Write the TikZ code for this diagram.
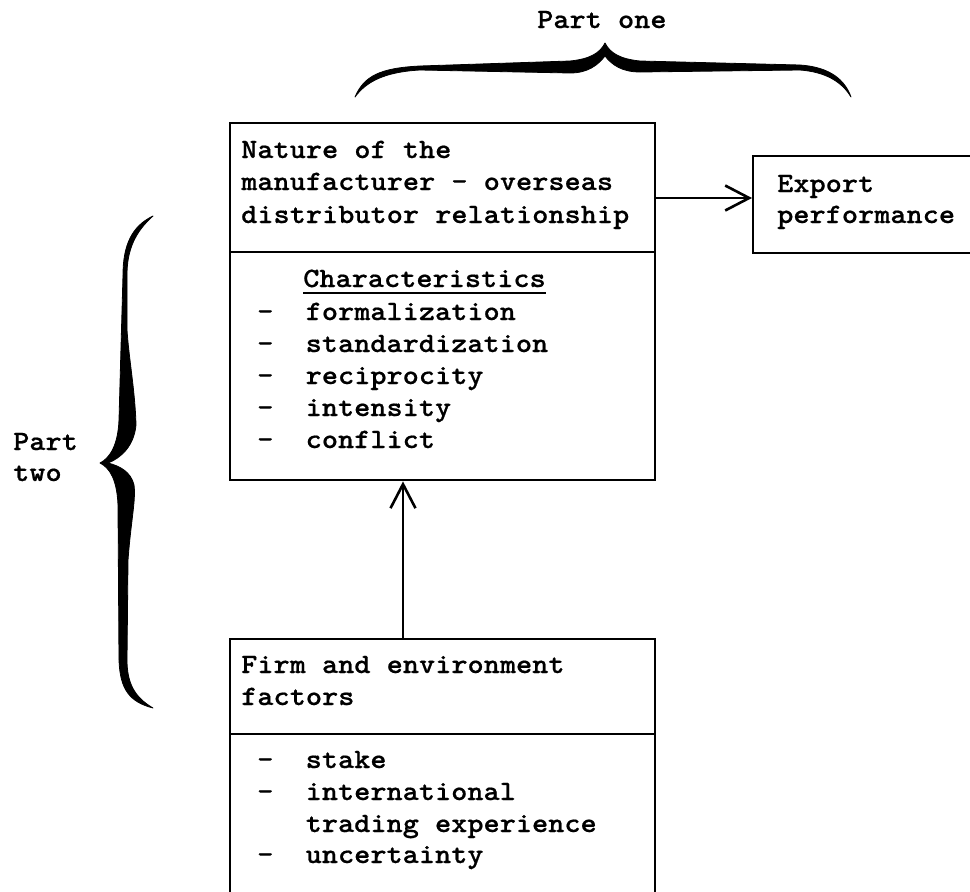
\documentclass[tikz,border=0pt]{standalone}
\usepackage{fontspec}
\newfontfamily\typewriter{lmmonolt10-bold.otf}[FakeStretch=1.1, FakeBold=0.6]
\usetikzlibrary{arrows.meta}
\begin{document}
\begin{tikzpicture}[x=1pt,y=-1pt,
  frame/.style={draw, line width=2.4pt, inner sep=0pt, anchor=north west},
  rule/.style={line width=2.4pt},
  tline/.style={anchor=base west, inner sep=0pt,
    font=\typewriter\fontsize{28}{32}\selectfont},
  link/.style={line width=2pt,
    -{Straight Barb[length=24pt,width=25pt,line width=2.6pt]}},
  brace/.style={fill=black, draw=black, line width=0.8pt, line join=round},
]
\useasboundingbox (0,0) rectangle (970,892);
\clip (0,0) rectangle (970,892);

% boxes
\node[frame, minimum width=425pt, minimum height=357pt] (rel) at (229,122) {};
\node[frame, minimum width=260pt, minimum height=97pt] (exp) at (752,155) {};
\node[frame, minimum width=425pt, minimum height=300pt] (fef) at (229,638) {};

% dividers between heading and list
\coordinate (d1) at (0,252);
\coordinate (d2) at (0,734);
\draw[rule] (rel.west |- d1) -- (rel.east |- d1);
\draw[rule] (fef.west |- d2) -- (fef.east |- d2);

% connectors
\coordinate (ay) at (0,198);
\coordinate (ax) at (403,0);
\draw[link] (rel.east |- ay) -- (exp.west |- ay);
\draw[link] (fef.north -| ax) -- (rel.south -| ax);

% relationship box text
\node[tline] (r1) at (241,158) {Nature of the};
\node[tline] (r2) at (241,190) {manufacturer - overseas};
\node[tline] (r3) at (241,223) {distributor relationship};
\node[tline] (ch) at (303,287) {Characteristics};
\draw[line width=2pt] ([yshift=-6pt]ch.base west) -- ([yshift=-6pt]ch.base east);
\node[tline] (c1) at (257,320) {-~~formalization};
\node[tline] (c2) at (257,352) {-~~standardization};
\node[tline] (c3) at (257,384) {-~~reciprocity};
\node[tline] (c4) at (257,416) {-~~intensity};
\node[tline] (c5) at (257,448) {-~~conflict};

% export box text
\node[tline] (e1) at (777,192) {Export};
\node[tline] (e2) at (777,223) {performance};

% firm and environment box text
\node[tline] (f1) at (241,673) {Firm and environment};
\node[tline] (f2) at (241,705) {factors};
\node[tline] (g1) at (257,768) {-~~stake};
\node[tline] (g2) at (257,800) {-~~international};
\node[tline] (g3) at (257,832) {~~~trading experience};
\node[tline] (g4) at (257,863) {-~~uncertainty};

% brace labels
\node[tline] (p1) at (537,28) {Part one};
\node[tline] (p2) at (13,450) {Part};
\node[tline] (p3) at (13,481) {two};

% horizontal brace over the top
\path[brace] (355,97)
  .. controls (364,76) and (380,68) .. (420,66)
  -- (570,61)
  .. controls (590,59) and (600,53) .. (605,43)
  .. controls (610,53) and (620,59) .. (640,61)
  -- (800,65)
  .. controls (830,67) and (845,80) .. (851,97)
  .. controls (842,82) and (826,72) .. (800,70)
  -- (640,72)
  .. controls (622,72) and (612,65) .. (605,56)
  .. controls (598,65) and (588,73) .. (570,73)
  -- (420,70)
  .. controls (384,72) and (366,82) .. (355,97) -- cycle;

% vertical brace on the left
\path[brace] (153,216)
  .. controls (132,226) and (123,245) .. (123,275)
  -- (119,420)
  .. controls (118,445) and (110,458) .. (100,463)
  .. controls (110,468) and (117,480) .. (118,505)
  -- (119,660)
  .. controls (120,690) and (130,702) .. (153,708)
  .. controls (136,698) and (127,685) .. (127,660)
  -- (128,560)
  .. controls (131,520) and (136,500) .. (134,485)
  .. controls (131,472) and (120,466) .. (108,463)
  .. controls (121,458) and (134,446) .. (136,425)
  .. controls (135,390) and (129,360) .. (127,330)
  -- (127,275)
  .. controls (127,250) and (135,232) .. (153,216) -- cycle;
\end{tikzpicture}
\end{document}
